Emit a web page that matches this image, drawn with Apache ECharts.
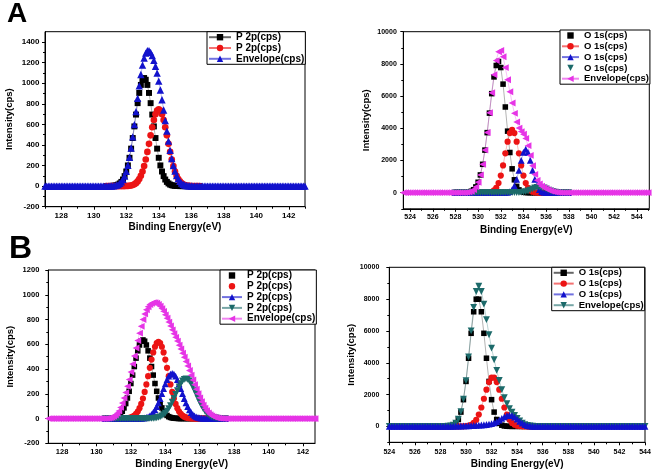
<!DOCTYPE html>
<html><head><meta charset="utf-8">
<script src="https://cdn.jsdelivr.net/npm/echarts@6.0.0/dist/echarts.min.js"></script>
<style>html,body{margin:0;padding:0;background:#fff}#c{width:657px;height:472px}</style>
</head><body><div id="c"></div>
<script>
// ---------- Panel A (left): P 2p ----------
const A1_env_x0 = 127.0, A1_step = 0.1;
const A1_env = [
0,0,0,0,0,0,0,0,0,0, 0,0,0,0,0,0,0,0,0,0, 0,0,0,0,0,0,0,0,0,0, 0,0,0,0,0,0,0,0,0,0,
1,1,3,5,9,15,26,41,64,98, 143,203,279,370,478,598,724,852,974,1084,
1175,1245,1292,1315,1316,1299,1267,1222,1164,1097, 1020,934,839,739,636,534,437,347,268,200,
145,102,70,46,29,18,11,6,4,2, 1,
0,0,0,0,0,0,0,0,0,0, 0,0,0,0,0,0,0,0,0,0, 0,0,0,0,0,0,0,0,0,0, 0,0,0,0,0,0,0,0,0,0,
0,0,0,0,0,0,0,0,0,0, 0,0,0,0,0,0,0,0,0,0, 0,0,0,0,0,0,0,0,0,0];
const A1_comp_x0 = 130.8;
const A1_black = [0,0,1,1,3,5,9,15,26,41, 64,97,142,201,275,364,467,580,695,806,
905,983,1033,1050,1033,983,905,806,695,580, 467,364,275,201,142,97,64,41,26,15,
9,5,3,1,1, 0,0,0,0,0,0,0,0,0,0,0,0,0];
const A1_red = [0,0,0,0,0,0,0,0,0,0,0,0,
1,2,4,6,11,18,29,46,69,101, 142,195,259,332,411,493,572,642,697,733,
745,733,697,642,572,493,411,332,259,195, 142,101,69,46,29,18,11,6,4,2, 1,
0,0,0,0,0];
const A1_xTicks = [128,130,132,134,136,138,140,142];
const A1_xMinor = [127,129,131,133,135,137,139,141,143];
const A1_yTicks = [-200,0,200,400,600,800,1000,1200,1400];
const A1_yMinor = [-100,100,300,500,700,900,1100,1300];
const A1_names = ['P 2p(cps)','P 2p(cps)','Envelope(cps)'];

// ---------- Panel A (right): O 1s ----------
const A2_env_x0 = 523.4, A2_step = 0.2;
const A2_env = [
0,0,0,0,0,0,0,0,0,0, 0,0,0,0,0,0,0,0,0,0, 0,0,0,
0,0,0,3,7,18,42,91,186,358, 649,1103,1763,2648,3738,4964,6210,7332,8205,8750,
8837,8443,7773,7014,6271,5572,4929,4392,4015,3795, 3631,3373,2923,2313,1675,1138,766,540,406,314,
236,166,107,64,34,17,8,3,1,1, 0,
0,0,0,0,0,0,0,0,0,0, 0,0,0,0,0,0,0,0,0,0, 0,0,0,0,0,0,0,0,0,0, 0,0,0,0,0];
const A2_comp_x0 = 528.0;
const A2_black = [0,0,0,3,7,18,42,91,186,358, 649,1103,1763,2646,3731,4943,6152,7192,7900,8150,
7774,6744,5323,3822,2497,1483,801,394,176,72, 26,9,3,
0,0,0,0,0,0,0,0,0,0,0,0,0,0,0,0,0,0];
const A2_red = [0,0,0,0,0,0,0,0,0,0,0,0,0,
2,7,21,58,140,305,600,1063,1697,2443, 3168,3702,3900,3702,3168,2443,1697,1063,600,305, 140,58,21,7,2,
0,0,0,0,0,0,0,0,0,0,0,0,0];
const A2_blue = [0,0,0,0,0,0,0,0,0,0,0,0,0,0,0,0,0,0,0,0,0,
2,7,24,72,188,425,827,1388,2009,2508, 2700,2508,2009,1388,827,425,188,72,24,7, 2,
0,0,0,0,0,0,0,0,0];
const A2_teal = [0,0,0,0,0,0,0,0,0,0,0,0,0,0,0,0,0,0,0,0,0,0,0,0,0,
1,1,3,8,17,34,64,107,164,229, 290,334,350,334,290,229,164,107,64,34, 17,8,3,1,1,0];
const A2_xTicks = [524,526,528,530,532,534,536,538,540,542,544];
const A2_xMinor = [525,527,529,531,533,535,537,539,541,543,545];
const A2_yTicks = [0,2000,4000,6000,8000,10000];
const A2_yMinor = [-1000,1000,3000,5000,7000,9000];
const A2_names = ['O 1s(cps)','O 1s(cps)','O 1s(cps)','O 1s(cps)','Envelope(cps)'];

// ---------- Panel B (left): P 2p ----------
const B1_env_x0 = 127.2, B1_step = 0.1;
const B1_env = [
0,0,0,0,0,0,0,0,0,0, 0,0,0,0,0,0,0,0,0,0, 0,0,0,0,0,0,0,0,0,0, 0,0,0,
0,1,3,5,10,18,28,42,60,90, 125,165,210,260,315,375,440,505,570,630,
690,745,800,845,879,903,921,931,936,937, 932,922,907,888,866,838,810,779,748,717,
686,656,626,593,562,528,495,460,425,388, 350,312,274,237,201,167,136,108,84,63,
46,32,22,14,9,5,3,2,1,0, 0,
0,0,0,0,0,0,0,0,0,0, 0,0,0,0,0,0,0,0,0,0, 0,0,0,0,0,0,0,0,0,0, 0,0,0,0,0,0,0,0,0,0,
0,0,0,0,0,0,0,0,0,0, 0,0];
const B1_comp_x0 = 130.5;
const B1_black = [0,0,1,2,3,5,9,15,25,39, 59,86,121,166,220,283,351,420,488,547,
594,625,635,625,594,547,488,420,351,283, 220,166,121,86,59,39,25,15,9,5, 3,2,1,
0,0,0,0,0,0,0,0,0,0, 0,0,0,0,0,0,0,0,0,0, 0,0,0,0,0,0,0,0];
const B1_red = [0,0,0,0,0,0,0,0,0,0,0,
1,2,3,5,9,15,24,38,57,84, 118,162,215,276,342,410,476,534,580,610,
620,610,580,534,476,410,342,276,215,162, 118,84,57,38,24,15,9,5,3,2, 1,
0,0,0,0,0,0,0,0,0,0, 0,0,0,0,0,0,0,0,0];
const B1_blue = [0,0,0,0,0,0,0,0,0,0, 0,0,0,0,0,0,0,0,0,0,
1,2,3,5,9,14,22,34,49,70, 96,127,162,201,242,280,315,342,359,365,
359,342,315,280,242,201,162,127,96,70, 49,34,22,14,9,5,3,2,1,
0,0,0,0,0,0,0,0,0,0,0,0];
const B1_teal = [0,0,0,0,0,0,0,0,0,0, 0,0,0,0,0,0,0,0,0,0, 0,0,0,0,0,0,
1,1,2,4,6,9,14,21,31,43, 60,80,104,132,162,194,226,256,282,303,
316,320,316,303,282,256,226,194,162,132, 104,80,60,43,31,21,14,9,6,4, 2,1,1,0,0];
const B1_xTicks = [128,130,132,134,136,138,140,142];
const B1_xMinor = [129,131,133,135,137,139,141];
const B1_yTicks = [-200,0,200,400,600,800,1000,1200];
const B1_yMinor = [-100,100,300,500,700,900,1100];
const B1_names = ['P 2p(cps)','P 2p(cps)','P 2p(cps)','P 2p(cps)','Envelope(cps)'];

// ---------- Panel B (right): O 1s ----------
const B2_x0 = 524.0, B2_step = 0.2;
const B2_env = [0,0,0,0,0,0,0,0,0,0, 0,0,0,0,0,0,0,0,0,0, 0,0,
2,8,26,85,204,454,926,1716,2879,4368, 6001,7476,8479,8811,8480,7690,6711,5759,4921,4187,
3516,2885,2311,1813,1424,1121,891,691,503,337, 206,112,55,25,10,4,1,
0,0,0,0,0,0,0,0,0,0, 0,0,0,0,0,0,0,0,0,0, 0,0,0,0,0,0,0,0,0,0, 0,0,0,0,0,0,0,0,0,0, 0,0];
const B2_comp_x0 = 526.0;
const B2_black = [0,0,0,0,0,0,0,0,0,0,0,0,
2,8,26,75,189,434,899,1680,2827,4285, 5852,7205,7995,7995,7205,5852,4285,2827,1680,899,
434,189,75,26,8,2,
0,0,0,0,0,0,0,0,0,0, 0,0,0,0,0,0,0,0,0,0, 0,0,0];
const B2_red = [0,0,0,0,0,0,0,0,0,0, 0,0,0,0,0,0,0,0,
2,6,17,43,101,216,419,741,1187,1736, 2306,2787,3063,3063,2787,2306,1736,1187,741,419,
216,101,43,17,6,2,
0,0,0,0,0,0,0,0,0,0, 0,0,0,0,0,0,0];
const B2_blue = [0,0,0,0,0,0,0,0,0,0, 0,0,0,0,0,0,0,0,0,0, 0,0,0,0,0,
10,15,20,25,30,35,40,48,55,65, 75,88,102,120,145,178,225,295,390,500,
600,675,700,675,590,460,320,200,110,55, 25,10,4,1,
0,0,0,0,0,0,0,0,0,0, 0,0,0,0,0,0,0,0,0,0, 0,0,0,0,0,0,0,0,0,0, 0,0,0,0,0,0,0,0,0,0, 0,0];
const B2_xTicks = [524,526,528,530,532,534,536,538,540,542,544];
const B2_xMinor = [525,527,529,531,533,535,537,539,541,543];
const B2_yTicks = [0,2000,4000,6000,8000,10000];
const B2_yMinor = [-1000,1000,3000,5000,7000,9000];
const B2_names = ['O 1s(cps)','O 1s(cps)','O 1s(cps)','Envelope(cps)'];

const X_TITLE = 'Binding Energy(eV)';
const Y_TITLE = 'Intensity(cps)';

// ---------- styling ----------
const FONT = 'Liberation Sans';
const C = {black:'#000000', red:'#ec1414', blue:'#1212cc', teal:'#1c6a6a', mag:'#e634e6'};
const SYM = {
  black:{symbol:'rect', rot:0, k:0.85}, red:{symbol:'circle', rot:0, k:0.95}, blue:{symbol:'triangle', rot:0, k:1.05},
  teal:{symbol:'triangle', rot:180, k:1.05}, mag:{symbol:'triangle', rot:90, k:1.05}
};
function pts(x0, step, ys){ return ys.map((y,i)=>[Math.round((x0+i*step)*100)/100, y]); }

const panels = [
  {grid:{left:45, top:31.7, width:260, height:175},
   x:{min:127, max:143, major:A1_xTicks, minor:A1_xMinor, fs:8, margin:5, nameGap:16},
   y:{min:-200, max:1500, major:A1_yTicks, minor:A1_yMinor, fs:8, margin:5.5, nameGap:31},
   size:7,
   series:[
     {key:'black', data:pts(A1_comp_x0,A1_step,A1_black)},
     {key:'red', data:pts(A1_comp_x0,A1_step,A1_red)},
     {key:'blue', data:pts(A1_env_x0,A1_step,A1_env)}],
   names:A1_names, noLine:[],
   legend:{left:207, top:31.7, itemWidth:22, fs:10, lh:9.3}},
  {grid:{left:403.3, top:31.7, width:246, height:177.1},
   x:{min:523.4, max:545.1, major:A2_xTicks, minor:A2_xMinor, fs:7, margin:5, nameGap:16},
   y:{min:-1000, max:10000, major:A2_yTicks, minor:A2_yMinor, fs:7, margin:6.5, nameGap:32},
   size:6.5,
   series:[
     {key:'black', data:pts(A2_comp_x0,A2_step,A2_black)},
     {key:'red', data:pts(A2_comp_x0,A2_step,A2_red)},
     {key:'blue', data:pts(A2_comp_x0,A2_step,A2_blue)},
     {key:'teal', data:pts(A2_comp_x0,A2_step,A2_teal)},
     {key:'mag', data:pts(A2_env_x0,A2_step,A2_env)}],
   names:A2_names, noLine:[0,3],
   legend:{left:560, top:30, itemWidth:17, fs:9.5, lh:10}},
  {grid:{left:48.3, top:270, width:266.7, height:173.3},
   x:{min:127.2, max:142.7, major:B1_xTicks, minor:B1_xMinor, fs:7.5, margin:5, nameGap:16},
   y:{min:-200, max:1200, major:B1_yTicks, minor:B1_yMinor, fs:7.5, margin:9, nameGap:33},
   size:6.5,
   series:[
     {key:'black', data:pts(B1_comp_x0,B1_step,B1_black)},
     {key:'red', data:pts(B1_comp_x0,B1_step,B1_red)},
     {key:'blue', data:pts(B1_comp_x0,B1_step,B1_blue)},
     {key:'teal', data:pts(B1_comp_x0,B1_step,B1_teal)},
     {key:'mag', data:pts(B1_env_x0,B1_step,B1_env)}],
   names:B1_names, noLine:[0,1],
   legend:{left:220, top:270, itemWidth:20, fs:10, lh:9.6}},
  {grid:{left:389.3, top:267.3, width:255.7, height:175},
   x:{min:524, max:544, major:B2_xTicks, minor:B2_xMinor, fs:7, margin:6, nameGap:17},
   y:{min:-1000, max:10000, major:B2_yTicks, minor:B2_yMinor, fs:7, margin:10, nameGap:33},
   size:6.5,
   series:[
     {key:'black', data:pts(B2_comp_x0,B2_step,B2_black)},
     {key:'red', data:pts(B2_comp_x0,B2_step,B2_red)},
     {key:'blue', data:pts(B2_x0,B2_step,B2_blue), z:4},
     {key:'teal', data:pts(B2_x0,B2_step,B2_env)}],
   names:B2_names, noLine:[],
   legend:{left:551.7, top:267.3, itemWidth:20, fs:9.5, lh:9.8}}
];

const option = {backgroundColor:'#fff', animation:false,
  title:[
    {text:'A', left:7, top:0, padding:0, textStyle:{fontSize:28, fontWeight:'bold', fontFamily:FONT, color:'#000'}},
    {text:'B', left:9, top:233, padding:0, textStyle:{fontSize:32, fontWeight:'bold', fontFamily:FONT, color:'#000'}}],
  grid:[], xAxis:[], yAxis:[], legend:[], series:[]};

const labelMap = {};
const plain = (v)=>String(v);
panels.forEach((p, i)=>{
  option.grid.push(Object.assign({show:true, borderColor:'#000', borderWidth:1, backgroundColor:'rgba(0,0,0,0)'}, p.grid));
  const lab = (fs, margin)=>({fontSize:fs, fontWeight:'bold', fontFamily:FONT, color:'#000', margin, formatter:plain});
  option.xAxis.push({type:'value', gridIndex:i, min:p.x.min, max:p.x.max, position:'bottom',
    axisLine:{show:true, onZero:false, lineStyle:{color:'#000', width:1}},
    axisTick:{show:true, length:3, customValues:p.x.major, lineStyle:{color:'#000'}},
    axisLabel:Object.assign({customValues:p.x.major}, lab(p.x.fs, p.x.margin)),
    splitLine:{show:false},
    name:X_TITLE, nameLocation:'middle', nameGap:p.x.nameGap,
    nameTextStyle:{fontSize:10, fontWeight:'bold', fontFamily:FONT, color:'#000'}});
  option.xAxis.push({type:'value', gridIndex:i, min:p.x.min, max:p.x.max, position:'bottom',
    axisLine:{show:false, onZero:false},
    axisTick:{show:true, length:2, customValues:p.x.minor, lineStyle:{color:'#000'}},
    axisLabel:{show:false, customValues:p.x.minor}, splitLine:{show:false}});
  option.yAxis.push({type:'value', gridIndex:i, min:p.y.min, max:p.y.max, position:'left',
    axisLine:{show:true, onZero:false, lineStyle:{color:'#000', width:1}},
    axisTick:{show:true, length:3, customValues:p.y.major, lineStyle:{color:'#000'}},
    axisLabel:Object.assign({customValues:p.y.major}, lab(p.y.fs, p.y.margin)),
    splitLine:{show:false},
    name:Y_TITLE, nameLocation:'middle', nameGap:p.y.nameGap, nameRotate:90,
    nameTextStyle:{fontSize:9.5, fontWeight:'bold', fontFamily:FONT, color:'#000'}});
  option.yAxis.push({type:'value', gridIndex:i, min:p.y.min, max:p.y.max, position:'left',
    axisLine:{show:false, onZero:false},
    axisTick:{show:true, length:2, customValues:p.y.minor, lineStyle:{color:'#000'}},
    axisLabel:{show:false, customValues:p.y.minor}, splitLine:{show:false}});

  const legendData = [];
  p.series.forEach((s, j)=>{
    const id = 'p'+i+'s'+j;
    labelMap[id] = p.names[j];
    const col = C[s.key], sy = SYM[s.key];
    option.series.push({type:'line', name:id, xAxisIndex:2*i, yAxisIndex:2*i, data:s.data,
      symbol:sy.symbol, symbolRotate:sy.rot, symbolSize:p.size*sy.k, showSymbol:true, showAllSymbol:true,
      itemStyle:{color:col, borderWidth:0}, lineStyle:{color:col, width:0.5, opacity:0.6},
      z: s.z || 2, clip:true, animation:false, emphasis:{disabled:true}});
    const d = {name:id};
    if (p.noLine.indexOf(j) >= 0) d.lineStyle = {opacity:0};
    legendData.push(d);
  });
  option.legend.push({show:true, orient:'vertical', left:p.legend.left, top:p.legend.top,
    data:legendData, formatter:(n)=>labelMap[n], selectedMode:false,
    borderColor:'#000', borderWidth:1, backgroundColor:'#fff', padding:[0.5,1,0.5,1],
    itemGap:0.8, itemWidth:p.legend.itemWidth, itemHeight:8,
    textStyle:{fontSize:p.legend.fs, fontWeight:'bold', fontFamily:FONT, color:'#000', lineHeight:p.legend.lh}});
});

const chart = echarts.init(document.getElementById('c'), null, {renderer:'canvas', width:657, height:472});
chart.setOption(option);
</script></body></html>
